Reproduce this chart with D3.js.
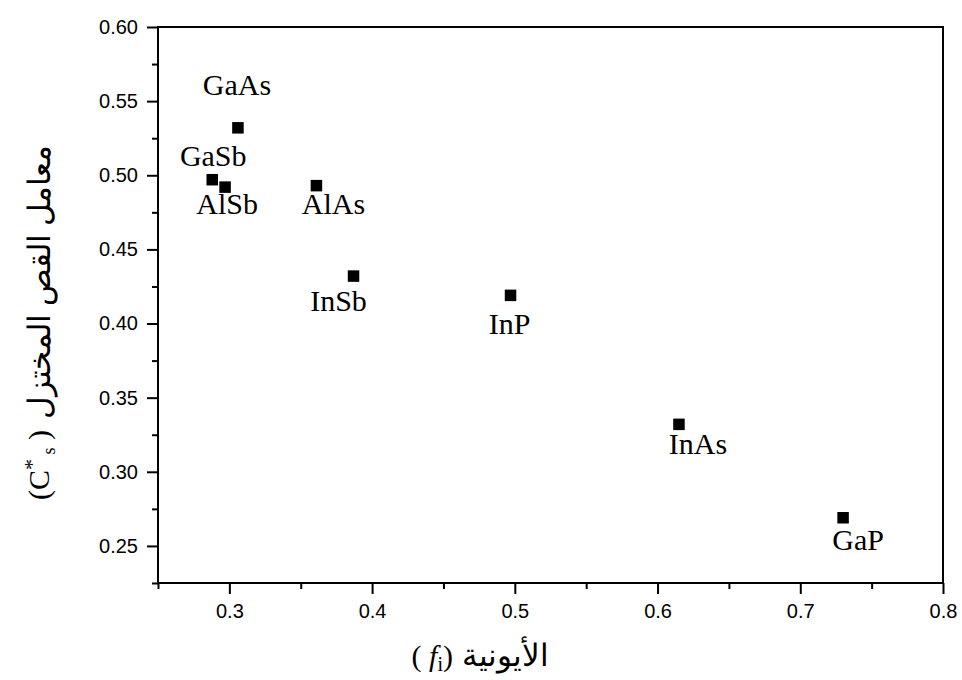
<!DOCTYPE html>
<html>
<head>
<meta charset="utf-8">
<script src="https://cdn.jsdelivr.net/npm/d3@7"></script>
<style>
  html, body { margin: 0; padding: 0; background: #fff; }
  svg { display: block; }
</style>
</head>
<body>
<svg id="chart" width="962" height="680"></svg>
<script>
// Compounds, ionicity f_i and reduced shear coefficient C*s
const compounds = ["GaAs", "GaSb", "AlSb", "AlAs", "InSb", "InP", "InAs", "GaP"];
const ionicity  = [0.306, 0.288, 0.297, 0.361, 0.387, 0.497, 0.615, 0.730];
const shearCoef = [0.532, 0.497, 0.492, 0.493, 0.432, 0.419, 0.332, 0.269];

// Tick values
const xTicks = [0.3, 0.4, 0.5, 0.6, 0.7, 0.8];
const yTicks = [0.25, 0.30, 0.35, 0.40, 0.45, 0.50, 0.55, 0.60];

// Label placement relative to each marker (px), in the same order as compounds
const labelOffsets = [[-1, -33], [1, -14], [2, 27], [17, 28], [-15, 35], [-1, 39], [19, 30], [15, 32]];

const svg = d3.select("#chart");
const plotLeft = 158, plotRight = 943, plotTop = 27, plotBottom = 583;

const x = d3.scaleLinear().domain([0.25, 0.8]).range([plotLeft, plotRight]);
const y = d3.scaleLinear().domain([0.225, 0.60]).range([plotBottom, plotTop]);

const tickFont = "'Liberation Sans', Arial, sans-serif";
const serif = "'Liberation Serif', 'Times New Roman', 'DejaVu Serif', serif";

// Minor ticks
const xMinor = d3.range(0.25, 0.8001, 0.05).map(v => +v.toFixed(3)).filter(v => !xTicks.some(t => Math.abs(t - v) < 1e-6));
const yMinor = d3.range(0.225, 0.6001, 0.05).map(v => +v.toFixed(3));

const axisStyle = g => {
  g.select(".domain").remove();
  g.selectAll(".tick line").attr("stroke", "#000").attr("stroke-width", 2);
  g.selectAll(".tick text").attr("fill", "#000").attr("font-family", tickFont).attr("font-size", 20);
};

svg.append("g")
  .attr("transform", `translate(0,${plotBottom})`)
  .call(d3.axisBottom(x).tickValues(xMinor).tickSize(6).tickFormat(""))
  .call(axisStyle);
svg.append("g")
  .attr("transform", `translate(0,${plotBottom})`)
  .call(d3.axisBottom(x).tickValues(xTicks).tickSize(11).tickPadding(10).tickFormat(d3.format(".1f")))
  .call(axisStyle);

svg.append("g")
  .attr("transform", `translate(${plotLeft},0)`)
  .call(d3.axisLeft(y).tickValues(yMinor).tickSize(6).tickFormat(""))
  .call(axisStyle);
svg.append("g")
  .attr("transform", `translate(${plotLeft},0)`)
  .call(d3.axisLeft(y).tickValues(yTicks).tickSize(11).tickPadding(9).tickFormat(d3.format(".2f")))
  .call(axisStyle);

// Frame
svg.append("rect")
  .attr("x", plotLeft).attr("y", plotTop)
  .attr("width", plotRight - plotLeft).attr("height", plotBottom - plotTop)
  .attr("fill", "none").attr("stroke", "#000").attr("stroke-width", 2);

// Markers
const size = 11.5;
const data = compounds.map((c, i) => ({ name: c, fi: ionicity[i], cs: shearCoef[i], off: labelOffsets[i] }));

svg.append("g").selectAll("rect")
  .data(data).join("rect")
  .attr("x", d => x(d.fi) - size / 2)
  .attr("y", d => y(d.cs) - size / 2)
  .attr("width", size).attr("height", size)
  .attr("fill", "#000");

svg.append("g").selectAll("text")
  .data(data).join("text")
  .attr("x", d => x(d.fi) + d.off[0])
  .attr("y", d => y(d.cs) + d.off[1])
  .attr("text-anchor", "middle")
  .attr("font-family", serif)
  .attr("font-size", 30)
  .attr("fill", "#000")
  .text(d => d.name);

// X axis title: symbol part, then the Arabic word to its right
const xSym = svg.append("text")
  .attr("x", 453).attr("y", 666)
  .attr("text-anchor", "end")
  .attr("font-family", serif)
  .attr("font-size", 30)
  .attr("fill", "#000");
xSym.append("tspan").text("( ");
xSym.append("tspan").attr("font-style", "italic").text("f");
xSym.append("tspan").attr("font-size", 20).attr("dy", 5).text("i");
xSym.append("tspan").attr("dy", -5).text(")");

svg.append("text")
  .attr("x", 462).attr("y", 666)
  .attr("text-anchor", "start")
  .attr("direction", "ltr")
  .attr("font-family", serif)
  .attr("font-size", 31)
  .attr("fill", "#000")
  .text("الأيونية");

// Y axis title (rotated): symbol part at the bottom, Arabic above it
const ySym = svg.append("text")
  .attr("transform", "translate(49,500) rotate(-90)")
  .attr("text-anchor", "start")
  .attr("font-family", serif)
  .attr("font-size", 30)
  .attr("fill", "#000");
ySym.append("tspan").text("(C");
ySym.append("tspan").attr("font-size", 22).attr("dy", -10).text("*");
ySym.append("tspan").attr("font-size", 18).attr("dy", 16).text(" s");
ySym.append("tspan").attr("font-size", 30).attr("dy", -6).text(" )");

svg.append("text")
  .attr("transform", "translate(50,145) rotate(-90)")
  .attr("text-anchor", "end")
  .attr("direction", "ltr")
  .attr("font-family", serif)
  .attr("font-size", 31)
  .attr("fill", "#000")
  .text("معامل القص المختزل");
</script>
</body>
</html>
